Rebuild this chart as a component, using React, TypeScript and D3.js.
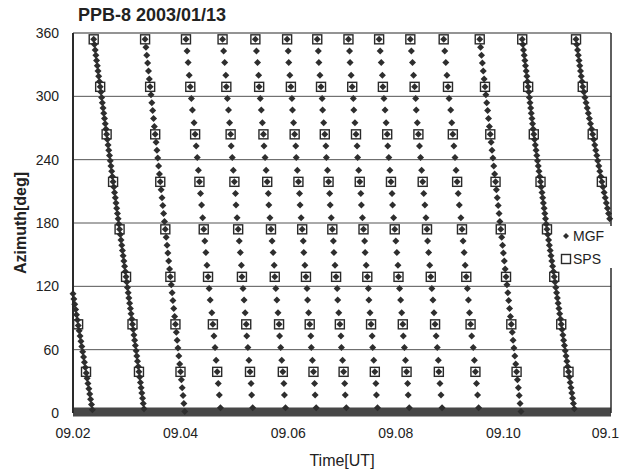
import React, { useEffect, useRef } from "react";
import * as d3 from "d3";

// time axis in minutes after 09:00, azimuth in degrees
const xTicks = [2, 4, 6, 8, 10, 12];
const xTickLabels = ["09.02", "09.04", "09.06", "09.08", "09.10", "09.1"];
const yTicks = [0, 60, 120, 180, 240, 300, 360];

// azimuth samples along each MGF line
const azLine0 = [113, 108, 103, 98, 93, 88, 83, 78, 73, 68, 63, 58, 53, 48, 43, 38, 33, 28, 23, 18, 13, 8, 3];
const azDense = [354, 349, 344, 339, 334, 329, 324, 319, 314, 309, 304, 299, 294, 289, 284, 279, 274, 269, 264, 259, 254, 249, 244, 239, 234, 229, 224, 219, 214, 209, 204, 199, 194, 189, 184, 179, 174, 169, 164, 159, 154, 149, 144, 139, 134, 129, 124, 119, 114, 109, 104, 99, 94, 89, 84, 79, 74, 69, 64, 59, 54, 49, 44, 39, 34, 29, 24, 19, 14, 9, 4];
const azHalf = [354, 346.5, 339, 331.5, 324, 316.5, 309, 301.5, 294, 286.5, 279, 271.5, 264, 256.5, 249, 241.5, 234, 226.5, 219, 211.5, 204, 196.5, 189, 181.5, 174, 166.5, 159, 151.5, 144, 136.5, 129, 121.5, 114, 106.5, 99, 91.5, 84, 76.5, 69, 61.5, 54, 46.5, 39, 31.5, 24, 16.5, 9, 1.5];
const azMid = [354, 343, 332, 320, 309, 298, 287, 275, 264, 253, 242, 230, 219, 208, 197, 185, 174, 163, 152, 140, 129, 118, 107, 95, 84, 73, 62, 50, 39, 28, 17, 5];

// MGF sample times, one array per sweep
const t0 = [2.000, 2.016, 2.033, 2.049, 2.065, 2.082, 2.098, 2.115, 2.131, 2.147, 2.164, 2.180, 2.196, 2.213, 2.229, 2.246, 2.262, 2.278, 2.295, 2.311, 2.327, 2.344, 2.360];
const t1 = [2.385, 2.398, 2.412, 2.425, 2.438, 2.452, 2.465, 2.478, 2.492, 2.505, 2.519, 2.532, 2.545, 2.559, 2.572, 2.585, 2.599, 2.612, 2.625, 2.639, 2.652, 2.665, 2.679, 2.692, 2.705, 2.719, 2.732, 2.745, 2.759, 2.772, 2.786, 2.799, 2.812, 2.826, 2.839, 2.852, 2.866, 2.879, 2.892, 2.906, 2.919, 2.932, 2.946, 2.959, 2.972, 2.986, 2.999, 3.012, 3.026, 3.039, 3.053, 3.066, 3.079, 3.093, 3.106, 3.119, 3.133, 3.146, 3.159, 3.173, 3.186, 3.199, 3.213, 3.226, 3.239, 3.253, 3.266, 3.279, 3.293, 3.306, 3.320];
const t2 = [3.340, 3.356, 3.371, 3.387, 3.403, 3.418, 3.434, 3.450, 3.465, 3.481, 3.497, 3.512, 3.528, 3.544, 3.560, 3.575, 3.591, 3.607, 3.622, 3.638, 3.654, 3.669, 3.685, 3.701, 3.716, 3.732, 3.748, 3.763, 3.779, 3.795, 3.810, 3.826, 3.842, 3.857, 3.873, 3.889, 3.904, 3.920, 3.936, 3.951, 3.967, 3.983, 3.999, 4.014, 4.030, 4.046, 4.061, 4.077];
const t3 = [4.10, 4.12, 4.14, 4.16, 4.18, 4.20, 4.22, 4.25, 4.27, 4.29, 4.31, 4.33, 4.35, 4.37, 4.39, 4.41, 4.43, 4.45, 4.47, 4.49, 4.51, 4.53, 4.55, 4.58, 4.60, 4.62, 4.64, 4.66, 4.68, 4.70, 4.72, 4.74];
const t4 = [4.78, 4.80, 4.82, 4.84, 4.85, 4.87, 4.89, 4.91, 4.93, 4.94, 4.96, 4.98, 5.00, 5.02, 5.03, 5.05, 5.07, 5.09, 5.11, 5.13, 5.14, 5.16, 5.18, 5.20, 5.22, 5.23, 5.25, 5.27, 5.29, 5.31, 5.32, 5.34];
const t5 = [5.39, 5.41, 5.43, 5.45, 5.46, 5.48, 5.50, 5.52, 5.54, 5.55, 5.57, 5.59, 5.61, 5.63, 5.64, 5.66, 5.68, 5.70, 5.72, 5.74, 5.75, 5.77, 5.79, 5.81, 5.83, 5.84, 5.86, 5.88, 5.90, 5.92, 5.93, 5.95];
const t6 = [5.98, 6.00, 6.01, 6.03, 6.05, 6.07, 6.08, 6.10, 6.12, 6.14, 6.15, 6.17, 6.19, 6.21, 6.22, 6.24, 6.26, 6.28, 6.29, 6.31, 6.33, 6.35, 6.36, 6.38, 6.40, 6.42, 6.43, 6.45, 6.47, 6.49, 6.50, 6.52];
const t7 = [6.54, 6.56, 6.57, 6.59, 6.61, 6.63, 6.64, 6.66, 6.68, 6.70, 6.71, 6.73, 6.75, 6.77, 6.78, 6.80, 6.82, 6.84, 6.85, 6.87, 6.89, 6.91, 6.92, 6.94, 6.96, 6.98, 6.99, 7.01, 7.03, 7.05, 7.06, 7.08];
const t8 = [7.12, 7.14, 7.15, 7.17, 7.19, 7.21, 7.22, 7.24, 7.26, 7.28, 7.29, 7.31, 7.33, 7.35, 7.36, 7.38, 7.40, 7.42, 7.43, 7.45, 7.47, 7.49, 7.50, 7.52, 7.54, 7.56, 7.57, 7.59, 7.61, 7.63, 7.64, 7.66];
const t9 = [7.69, 7.71, 7.73, 7.75, 7.76, 7.78, 7.80, 7.82, 7.84, 7.85, 7.87, 7.89, 7.91, 7.93, 7.94, 7.96, 7.98, 8.00, 8.02, 8.04, 8.05, 8.07, 8.09, 8.11, 8.13, 8.14, 8.16, 8.18, 8.20, 8.22, 8.23, 8.25];
const t10 = [8.27, 8.29, 8.31, 8.33, 8.35, 8.37, 8.38, 8.40, 8.42, 8.44, 8.46, 8.48, 8.50, 8.52, 8.54, 8.56, 8.58, 8.59, 8.61, 8.63, 8.65, 8.67, 8.69, 8.71, 8.73, 8.75, 8.77, 8.79, 8.80, 8.82, 8.84, 8.86];
const t11 = [8.89, 8.91, 8.93, 8.95, 8.97, 8.99, 9.02, 9.04, 9.06, 9.08, 9.10, 9.12, 9.14, 9.16, 9.18, 9.21, 9.23, 9.25, 9.27, 9.29, 9.31, 9.33, 9.35, 9.37, 9.39, 9.41, 9.44, 9.46, 9.48, 9.50, 9.52, 9.54];
const t12 = [9.560, 9.576, 9.593, 9.609, 9.625, 9.642, 9.658, 9.674, 9.690, 9.707, 9.723, 9.739, 9.756, 9.772, 9.788, 9.805, 9.821, 9.837, 9.854, 9.870, 9.886, 9.903, 9.919, 9.935, 9.951, 9.968, 9.984, 10.000, 10.017, 10.033, 10.049, 10.066, 10.082, 10.098, 10.115, 10.131, 10.147, 10.164, 10.180, 10.196, 10.212, 10.229, 10.245, 10.261, 10.278, 10.294, 10.310, 10.327];
const t13 = [10.350, 10.362, 10.374, 10.387, 10.399, 10.411, 10.423, 10.436, 10.448, 10.460, 10.472, 10.483, 10.495, 10.507, 10.518, 10.530, 10.542, 10.553, 10.565, 10.579, 10.593, 10.607, 10.621, 10.634, 10.648, 10.662, 10.676, 10.690, 10.703, 10.717, 10.730, 10.743, 10.757, 10.770, 10.783, 10.797, 10.810, 10.825, 10.840, 10.855, 10.870, 10.885, 10.900, 10.915, 10.930, 10.945, 10.959, 10.974, 10.988, 11.003, 11.017, 11.032, 11.046, 11.061, 11.075, 11.090, 11.105, 11.120, 11.135, 11.150, 11.165, 11.180, 11.195, 11.210, 11.225, 11.241, 11.256, 11.272, 11.287, 11.302, 11.318];
const t14 = [11.350, 11.364, 11.378, 11.392, 11.406, 11.419, 11.433, 11.447, 11.461, 11.475, 11.496, 11.516, 11.537, 11.557, 11.578, 11.598, 11.619, 11.639, 11.660, 11.679, 11.698, 11.717, 11.736, 11.754, 11.773, 11.792, 11.811, 11.830, 11.851, 11.872, 11.893, 11.913, 11.934, 11.955, 11.976];

const mgfSweeps = [
  [t0, azLine0], [t1, azDense], [t2, azHalf], [t3, azMid], [t4, azMid],
  [t5, azMid], [t6, azMid], [t7, azMid], [t8, azMid], [t9, azMid],
  [t10, azMid], [t11, azMid], [t12, azHalf], [t13, azDense], [t14, azDense],
];

// SPS pulses: time of each sweep at the sensor azimuths
const spsAz = [354, 309, 264, 219, 174, 129, 84, 39];
const spsTimes = [
  [null, null, null, null, null, null, 2.095, 2.242],
  [2.385, 2.505, 2.625, 2.745, 2.866, 2.986, 3.106, 3.226],
  [3.340, 3.434, 3.528, 3.622, 3.716, 3.810, 3.904, 3.998],
  [4.10, 4.18, 4.27, 4.35, 4.43, 4.51, 4.60, 4.68],
  [4.78, 4.85, 4.93, 5.00, 5.07, 5.14, 5.22, 5.29],
  [5.39, 5.46, 5.54, 5.61, 5.68, 5.75, 5.83, 5.90],
  [5.98, 6.05, 6.12, 6.19, 6.26, 6.33, 6.40, 6.47],
  [6.54, 6.61, 6.68, 6.75, 6.82, 6.89, 6.96, 7.03],
  [7.12, 7.19, 7.26, 7.33, 7.40, 7.47, 7.54, 7.61],
  [7.69, 7.76, 7.84, 7.91, 7.98, 8.05, 8.13, 8.20],
  [8.27, 8.35, 8.42, 8.50, 8.58, 8.65, 8.73, 8.80],
  [8.89, 8.97, 9.06, 9.14, 9.23, 9.31, 9.39, 9.48],
  [9.560, 9.658, 9.756, 9.854, 9.951, 10.049, 10.147, 10.245],
  [10.35, 10.46, 10.565, 10.69, 10.81, 10.945, 11.075, 11.21],
  [11.35, 11.475, 11.66, 11.83, null, null, null, null],
];

const width = 621;
const height = 476;
const plot = { left: 73, right: 611, top: 33, bottom: 413 };
const font = "'Liberation Sans', Arial, sans-serif";
const ink = "#2e2e2e";
const diamond = "M0,-3.5L3.5,0L0,3.5L-3.5,0Z";

const App = () => {
  const ref = useRef(null);

  useEffect(() => {
    const svg = d3.select(ref.current);
    svg.selectAll("*").remove();

    const x = d3.scaleLinear().domain([2, 12]).range([plot.left, plot.right]);
    const y = d3.scaleLinear().domain([0, 360]).range([plot.bottom, plot.top]);

    svg.append("rect").attr("width", width).attr("height", height).attr("fill", "#fff");

    // title
    svg.append("text")
      .attr("x", 78).attr("y", 21)
      .style("font-family", font).style("font-size", "18px").style("font-weight", "bold")
      .attr("fill", "#222")
      .text("PPB-8 2003/01/13");

    // horizontal grid
    svg.append("g").selectAll("line")
      .data(yTicks.filter(v => v > 0 && v < 360))
      .enter().append("line")
      .attr("x1", plot.left).attr("x2", plot.right)
      .attr("y1", d => y(d)).attr("y2", d => y(d))
      .attr("stroke", "#555").attr("stroke-width", 1);

    // the dense zero-level band along the time axis
    svg.append("rect")
      .attr("x", plot.left).attr("y", y(0) - 5.5)
      .attr("width", plot.right - plot.left).attr("height", 9)
      .attr("fill", "#474747");

    // MGF diamonds
    const mgf = [];
    mgfSweeps.forEach(([ts, az]) => ts.forEach((t, i) => mgf.push([t, az[i]])));
    svg.append("g").selectAll("path")
      .data(mgf)
      .enter().append("path")
      .attr("d", diamond)
      .attr("transform", d => `translate(${x(d[0])},${y(d[1])})`)
      .attr("fill", ink);

    // SPS squares
    const sps = [];
    spsTimes.forEach(row => row.forEach((t, i) => { if (t != null) sps.push([t, spsAz[i]]); }));
    svg.append("g").selectAll("rect")
      .data(sps)
      .enter().append("rect")
      .attr("x", d => x(d[0]) - 4.5).attr("y", d => y(d[1]) - 4.5)
      .attr("width", 9).attr("height", 9)
      .attr("fill", "none").attr("stroke", "#2a2a2a").attr("stroke-width", 1.4);

    // frame
    const frame = svg.append("g").attr("stroke", "#2a2a2a");
    frame.append("line").attr("x1", plot.left).attr("x2", plot.right)
      .attr("y1", plot.top).attr("y2", plot.top).attr("stroke-width", 1.2);
    frame.append("line").attr("x1", plot.left).attr("x2", plot.left)
      .attr("y1", plot.top).attr("y2", y(0)).attr("stroke-width", 2);
    frame.append("line").attr("x1", plot.right).attr("x2", plot.right)
      .attr("y1", plot.top).attr("y2", y(0)).attr("stroke-width", 1.5);

    // y tick labels
    svg.append("g").selectAll("text")
      .data(yTicks)
      .enter().append("text")
      .attr("x", 59).attr("y", d => y(d))
      .attr("dy", "0.35em").attr("text-anchor", "end")
      .style("font-family", font).style("font-size", "14px")
      .attr("fill", "#222")
      .text(d => d);

    // x tick labels (last one sits against the right edge)
    svg.append("g").selectAll("text")
      .data(xTicks)
      .enter().append("text")
      .attr("x", (d, i) => (i === xTicks.length - 1 ? 619 : x(d)))
      .attr("y", 438)
      .attr("text-anchor", (d, i) => (i === xTicks.length - 1 ? "end" : "middle"))
      .style("font-family", font).style("font-size", "14px")
      .attr("fill", "#222")
      .text((d, i) => xTickLabels[i]);

    // axis titles
    svg.append("text")
      .attr("x", (plot.left + plot.right) / 2).attr("y", 466)
      .attr("text-anchor", "middle")
      .style("font-family", font).style("font-size", "16px")
      .attr("fill", "#222")
      .text("Time[UT]");
    svg.append("text")
      .attr("transform", `translate(26,${y(180)}) rotate(-90)`)
      .attr("text-anchor", "middle")
      .style("font-family", font).style("font-size", "16px").style("font-weight", "bold")
      .attr("fill", "#222")
      .text("Azimuth[deg]");

    // legend
    const lg = svg.append("g");
    lg.append("rect").attr("x", 557).attr("y", 226).attr("width", 64).attr("height", 42).attr("fill", "#fff");
    lg.append("path").attr("d", "M0,-3L3,0L0,3L-3,0Z")
      .attr("transform", "translate(566,236)").attr("fill", ink);
    lg.append("text").attr("x", 573).attr("y", 241)
      .style("font-family", font).style("font-size", "14px").attr("fill", "#222").text("MGF");
    lg.append("rect").attr("x", 561.5).attr("y", 254.5).attr("width", 9).attr("height", 9)
      .attr("fill", "none").attr("stroke", "#2a2a2a").attr("stroke-width", 1.4);
    lg.append("text").attr("x", 573).attr("y", 264)
      .style("font-family", font).style("font-size", "14px").attr("fill", "#222").text("SPS");
  }, []);

  return (
    <svg ref={ref} width={width} height={height}
      style={{ position: "absolute", left: 0, top: 0, display: "block" }} />
  );
};

export default App;
